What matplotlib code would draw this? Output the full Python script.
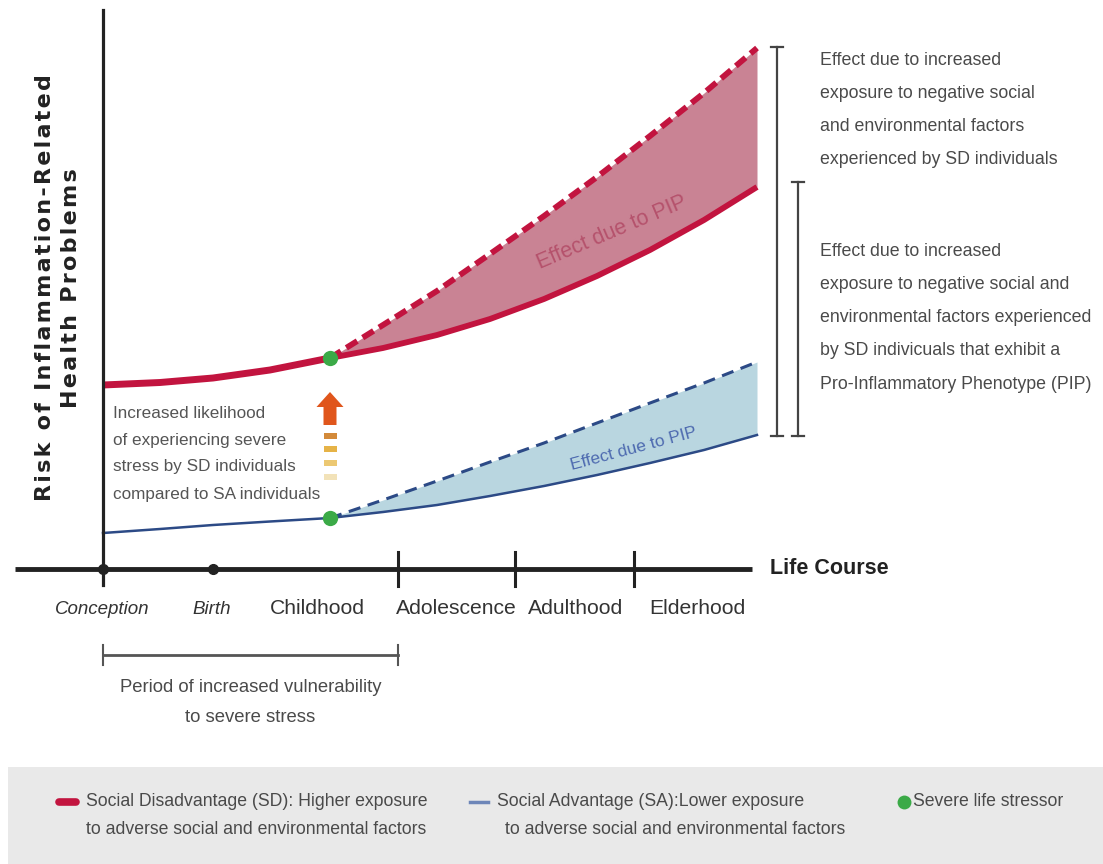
import numpy as np
import matplotlib
matplotlib.use("Agg")
import matplotlib.pyplot as plt
from matplotlib.patches import Rectangle, FancyArrow

# ---------------- data (life-course units; risk units) ----------------
stages = ["Conception", "Birth", "Childhood", "Adolescence", "Adulthood", "Elderhood"]
stage_label_x = [-0.01, 1.09, 2.14, 3.53, 4.73, 5.94]
stage_tick_x = [2.95, 4.12, 5.31]        # vertical tick marks
dot_tick_x = [0.00, 1.10]                # dot marks (conception, birth)
stressor_x = 2.27

pre_x = [0.00, 0.57, 1.10, 1.67, 2.27]
sd_pre = [1.84, 1.865, 1.91, 1.99, 2.11]
sa_pre = [0.36, 0.40, 0.44, 0.475, 0.51]

post_x = [2.27, 2.80, 3.34, 3.87, 4.41, 4.94, 5.47, 6.01, 6.54]
sd_solid = [2.11, 2.21, 2.34, 2.50, 2.70, 2.93, 3.19, 3.49, 3.82]
sd_dash = [2.11, 2.44, 2.78, 3.15, 3.53, 3.92, 4.33, 4.76, 5.21]
sa_solid = [0.51, 0.57, 0.64, 0.73, 0.83, 0.94, 1.06, 1.19, 1.34]
sa_dash = [0.51, 0.69, 0.88, 1.07, 1.26, 1.46, 1.66, 1.86, 2.07]

xaxis_end = 6.49

# ---------------- figure ----------------
W, H = 1103, 864
fig = plt.figure(figsize=(W / 100, H / 100), dpi=100)
ax = fig.add_axes([0, 0, 1, 1])
ax.set_xlim(-1.03, (W - 103) / 100)
ax.set_ylim((569 - H) / 100, 5.69)
ax.axis("off")


def P(x, y):
    """pixel position in the reference -> data coordinates"""
    return (x - 103) / 100, (569 - y) / 100


RED = "#C2143F"
RED_FILL = "#C98394"
BLUE = "#2C4A86"
BLUE_FILL = "#B9D6E0"
GREEN = "#3BAA47"
TXT = "#4a4a4a"
FONT = "Liberation Sans"

# fills
ax.fill_between(post_x, sd_solid, sd_dash, color=RED_FILL, lw=0, zorder=1)
ax.fill_between(post_x, sa_solid, sa_dash, color=BLUE_FILL, lw=0, zorder=1)

# SD curves
ax.plot(pre_x, sd_pre, color=RED, lw=5, solid_capstyle="butt", solid_joinstyle="round", zorder=3)
ax.plot(post_x, sd_solid, color=RED, lw=4.2, solid_capstyle="butt", solid_joinstyle="round", zorder=3)
ax.plot(post_x, sd_dash, color=RED, lw=4.2, dashes=(2.2, 1.1), zorder=3)
# SA curves
ax.plot(pre_x, sa_pre, color=BLUE, lw=1.8, zorder=3)
ax.plot(post_x, sa_solid, color=BLUE, lw=1.8, zorder=3)
ax.plot(post_x, sa_dash, color=BLUE, lw=2.2, dashes=(4, 2.5), zorder=3)

# stressor dots
ax.plot([stressor_x, stressor_x], [sd_pre[-1], sa_pre[-1]], "o", color=GREEN,
        ms=11, mec="none", zorder=5)

# axes lines
ax.plot([0, 0], [P(0, 585)[1], P(0, 10)[1]], color="#222", lw=2.3, zorder=4)
ax.plot([P(15, 0)[0], xaxis_end], [0, 0], color="#222", lw=3.5, zorder=4,
        solid_capstyle="butt")
for tx in stage_tick_x:
    ax.plot([tx, tx], [P(0, 552)[1], P(0, 586)[1]], color="#222", lw=2.2, zorder=4)
ax.plot(dot_tick_x, [0, 0], "o", color="#222", ms=7, zorder=5)

# stage labels
for i, (lab, lx) in enumerate(zip(stages, stage_label_x)):
    italic = i < 2
    ax.text(lx, P(0, 609)[1], lab, ha="center", va="center",
            fontsize=13.5 if italic else 15.2,
            style="italic" if italic else "normal", color="#333", family=FONT)

ax.text(*P(770, 569), "Life Course", ha="left", va="center", fontsize=15.5,
        fontweight="bold", color="#222", family=FONT)

# y label (letter-spaced)
def spaced(s):
    return "\u200a".join(s)

ax.text(*P(45, 288), spaced("Risk of Inflammation-Related"), rotation=90, ha="center",
        va="center", fontsize=16, fontweight="bold", color="#222", family="DejaVu Sans")
ax.text(*P(71, 288), spaced("Health Problems"), rotation=90, ha="center",
        va="center", fontsize=16, fontweight="bold", color="#222", family="DejaVu Sans")

# vulnerability bracket
bx0, bx1 = 0.0, stage_tick_x[0]
by = P(0, 655)[1]
ax.plot([bx0, bx1], [by, by], color="#555", lw=2)
for bx in (bx0, bx1):
    ax.plot([bx, bx], [by - 0.1, by + 0.1], color="#555", lw=1.5)
ax.text((bx0 + bx1) / 2, P(0, 687)[1], "Period of increased vulnerability",
        ha="center", va="center", fontsize=13.3, color=TXT, family=FONT)
ax.text((bx0 + bx1) / 2, P(0, 717)[1], "to severe stress",
        ha="center", va="center", fontsize=13.3, color=TXT, family=FONT)

# left note
for i, line in enumerate(["Increased likelihood", "of experiencing severe",
                          "stress by SD individuals", "compared to SA individuals"]):
    ax.text(*P(113, 413 + 27 * i), line, ha="left", va="center", fontsize=12.3,
            color="#555", family=FONT)

# arrow + stripes
ax.add_patch(FancyArrow(stressor_x, P(0, 425)[1], 0, 0.33, width=0.13,
                        head_width=0.27, head_length=0.15, length_includes_head=True,
                        color="#E0561C", lw=0, zorder=4))
for yy, c in zip([436, 449, 463, 477], ["#D38A3A", "#E6B347", "#ECC872", "#F2E2B8"]):
    ax.add_patch(Rectangle((stressor_x - 0.065, P(0, yy + 3)[1]), 0.13, 0.06,
                           color=c, lw=0, zorder=4))

# effect labels
ax.text(*P(612, 233), "Effect due to PIP", rotation=23, ha="center", va="center",
        fontsize=15.5, color="#B5526C", family=FONT, zorder=4)
ax.text(*P(634, 449), "Effect due to PIP", rotation=15, ha="center", va="center",
        fontsize=12.5, color="#4E6BB0", family=FONT, zorder=4)

# right brackets
for bxp, ytop in ((777, 47), (798, 182)):
    x = P(bxp, 0)[0]
    y0, y1 = P(0, 436)[1], P(0, ytop)[1]
    ax.plot([x, x], [y0, y1], color="#444", lw=1.6)
    for yy in (y0, y1):
        ax.plot([x - 0.06, x + 0.06], [yy, yy], color="#444", lw=1.6)

block1 = ["Effect due to increased", "exposure to negative social",
          "and environmental factors", "experienced by SD individuals"]
block2 = ["Effect due to increased", "exposure to negative social and",
          "environmental factors experienced", "by SD indivicuals that exhibit a",
          "Pro-Inflammatory Phenotype (PIP)"]
for i, line in enumerate(block1):
    ax.text(*P(820, 60 + 33.3 * i), line, ha="left", va="center", fontsize=12.8,
            color=TXT, family=FONT)
for i, line in enumerate(block2):
    ax.text(*P(820, 251 + 33.3 * i), line, ha="left", va="center", fontsize=12.8,
            color=TXT, family=FONT)

# legend box
lx0, ly0 = P(8, 864)
lx1, ly1 = P(1103, 767)
ax.add_patch(Rectangle((lx0, ly0), lx1 - lx0, ly1 - ly0, color="#E9E9E9", lw=0, zorder=0))
ax.plot([P(59, 0)[0], P(76, 0)[0]], [P(0, 802)[1]] * 2, color=RED, lw=5.5,
        solid_capstyle="round")
LFS = 12.7
ax.text(*P(86, 802), "Social Disadvantage (SD): Higher exposure", ha="left",
        va="center", fontsize=LFS, color=TXT, family=FONT)
ax.text(*P(86, 830), "to adverse social and environmental factors", ha="left",
        va="center", fontsize=LFS, color=TXT, family=FONT)
ax.plot([P(470, 0)[0], P(488, 0)[0]], [P(0, 802)[1]] * 2, color="#6D86B8", lw=2.5)
ax.text(*P(497, 802), "Social Advantage (SA):Lower exposure", ha="left",
        va="center", fontsize=LFS, color=TXT, family=FONT)
ax.text(*P(505, 830), "to adverse social and environmental factors", ha="left",
        va="center", fontsize=LFS, color=TXT, family=FONT)
ax.plot(*P(904, 802), "o", color=GREEN, ms=10, mec="none")
ax.text(*P(913, 802), "Severe life stressor", ha="left", va="center",
        fontsize=LFS, color=TXT, family=FONT)

fig.savefig("out.png", dpi=100)
